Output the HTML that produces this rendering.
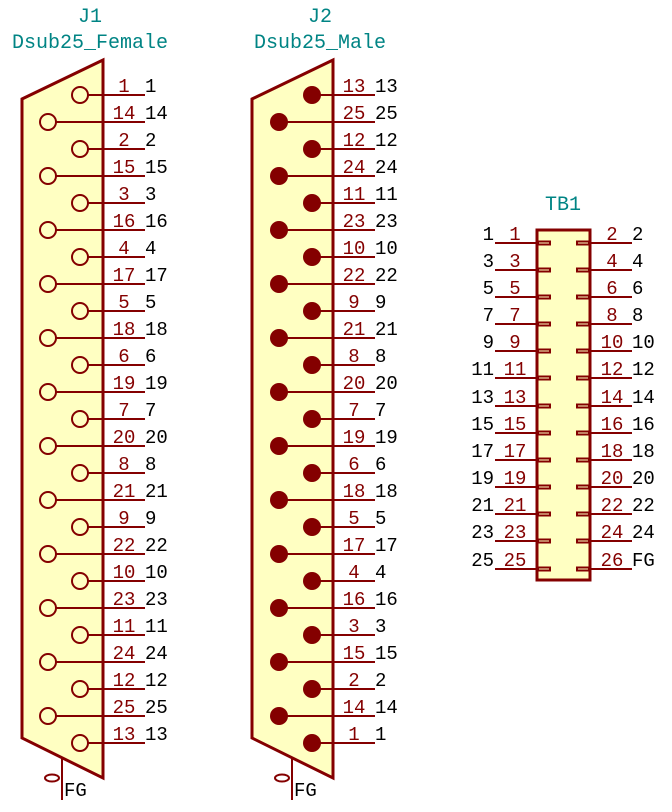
<!DOCTYPE html>
<html><head><meta charset="utf-8"><style>
html,body{margin:0;padding:0;background:#fff;}
svg{display:block;}
text{font-family:"Liberation Mono","DejaVu Sans Mono",monospace;font-size:19px;}
.r{fill:#840000;text-anchor:middle;}
.k{fill:#000;}
.t{fill:#008484;text-anchor:middle;font-size:20px;}
.ln{stroke:#840000;stroke-width:2;fill:none;}
.bd{stroke:#840000;stroke-width:3;fill:#ffffc2;}
</style></head><body>
<svg width="672" height="812" viewBox="0 0 672 812" xmlns="http://www.w3.org/2000/svg">
<!-- J1 -->
<text class="t" x="90" y="22">J1</text>
<text class="t" x="90" y="48">Dsub25_Female</text>
<polygon class="bd" points="103,60 22,99 22,738 103,778"/>
<line class="ln" x1="62" y1="758" x2="62" y2="800"/>
<ellipse cx="52" cy="778" rx="7" ry="3.5" class="ln"/>
<text class="k" x="64" y="796">FG</text>
<g class="ln">
<circle cx="80" cy="95" r="8"/><line x1="88" y1="95" x2="145" y2="95"/>
<circle cx="48" cy="122" r="8"/><line x1="56" y1="122" x2="145" y2="122"/>
<circle cx="80" cy="149" r="8"/><line x1="88" y1="149" x2="145" y2="149"/>
<circle cx="48" cy="176" r="8"/><line x1="56" y1="176" x2="145" y2="176"/>
<circle cx="80" cy="203" r="8"/><line x1="88" y1="203" x2="145" y2="203"/>
<circle cx="48" cy="230" r="8"/><line x1="56" y1="230" x2="145" y2="230"/>
<circle cx="80" cy="257" r="8"/><line x1="88" y1="257" x2="145" y2="257"/>
<circle cx="48" cy="284" r="8"/><line x1="56" y1="284" x2="145" y2="284"/>
<circle cx="80" cy="311" r="8"/><line x1="88" y1="311" x2="145" y2="311"/>
<circle cx="48" cy="338" r="8"/><line x1="56" y1="338" x2="145" y2="338"/>
<circle cx="80" cy="365" r="8"/><line x1="88" y1="365" x2="145" y2="365"/>
<circle cx="48" cy="392" r="8"/><line x1="56" y1="392" x2="145" y2="392"/>
<circle cx="80" cy="419" r="8"/><line x1="88" y1="419" x2="145" y2="419"/>
<circle cx="48" cy="446" r="8"/><line x1="56" y1="446" x2="145" y2="446"/>
<circle cx="80" cy="473" r="8"/><line x1="88" y1="473" x2="145" y2="473"/>
<circle cx="48" cy="500" r="8"/><line x1="56" y1="500" x2="145" y2="500"/>
<circle cx="80" cy="527" r="8"/><line x1="88" y1="527" x2="145" y2="527"/>
<circle cx="48" cy="554" r="8"/><line x1="56" y1="554" x2="145" y2="554"/>
<circle cx="80" cy="581" r="8"/><line x1="88" y1="581" x2="145" y2="581"/>
<circle cx="48" cy="608" r="8"/><line x1="56" y1="608" x2="145" y2="608"/>
<circle cx="80" cy="635" r="8"/><line x1="88" y1="635" x2="145" y2="635"/>
<circle cx="48" cy="662" r="8"/><line x1="56" y1="662" x2="145" y2="662"/>
<circle cx="80" cy="689" r="8"/><line x1="88" y1="689" x2="145" y2="689"/>
<circle cx="48" cy="716" r="8"/><line x1="56" y1="716" x2="145" y2="716"/>
<circle cx="80" cy="743" r="8"/><line x1="88" y1="743" x2="145" y2="743"/>
</g>
<g class="r">
<text x="124" y="92">1</text><text x="124" y="119">14</text><text x="124" y="146">2</text><text x="124" y="173">15</text><text x="124" y="200">3</text><text x="124" y="227">16</text><text x="124" y="254">4</text><text x="124" y="281">17</text><text x="124" y="308">5</text><text x="124" y="335">18</text><text x="124" y="362">6</text><text x="124" y="389">19</text><text x="124" y="416">7</text><text x="124" y="443">20</text><text x="124" y="470">8</text><text x="124" y="497">21</text><text x="124" y="524">9</text><text x="124" y="551">22</text><text x="124" y="578">10</text><text x="124" y="605">23</text><text x="124" y="632">11</text><text x="124" y="659">24</text><text x="124" y="686">12</text><text x="124" y="713">25</text><text x="124" y="740">13</text>
</g>
<g class="k">
<text x="145" y="92">1</text><text x="145" y="119">14</text><text x="145" y="146">2</text><text x="145" y="173">15</text><text x="145" y="200">3</text><text x="145" y="227">16</text><text x="145" y="254">4</text><text x="145" y="281">17</text><text x="145" y="308">5</text><text x="145" y="335">18</text><text x="145" y="362">6</text><text x="145" y="389">19</text><text x="145" y="416">7</text><text x="145" y="443">20</text><text x="145" y="470">8</text><text x="145" y="497">21</text><text x="145" y="524">9</text><text x="145" y="551">22</text><text x="145" y="578">10</text><text x="145" y="605">23</text><text x="145" y="632">11</text><text x="145" y="659">24</text><text x="145" y="686">12</text><text x="145" y="713">25</text><text x="145" y="740">13</text>
</g>

<!-- J2 -->
<text class="t" x="320" y="22">J2</text>
<text class="t" x="320" y="48">Dsub25_Male</text>
<polygon class="bd" points="333,60 252,99 252,738 333,778"/>
<line class="ln" x1="292" y1="758" x2="292" y2="800"/>
<ellipse cx="282" cy="778" rx="7" ry="3.5" class="ln"/>
<text class="k" x="294" y="796">FG</text>
<g class="ln">
<line x1="312" y1="95" x2="375" y2="95"/><line x1="279" y1="122" x2="375" y2="122"/><line x1="312" y1="149" x2="375" y2="149"/><line x1="279" y1="176" x2="375" y2="176"/><line x1="312" y1="203" x2="375" y2="203"/><line x1="279" y1="230" x2="375" y2="230"/><line x1="312" y1="257" x2="375" y2="257"/><line x1="279" y1="284" x2="375" y2="284"/><line x1="312" y1="311" x2="375" y2="311"/><line x1="279" y1="338" x2="375" y2="338"/><line x1="312" y1="365" x2="375" y2="365"/><line x1="279" y1="392" x2="375" y2="392"/><line x1="312" y1="419" x2="375" y2="419"/><line x1="279" y1="446" x2="375" y2="446"/><line x1="312" y1="473" x2="375" y2="473"/><line x1="279" y1="500" x2="375" y2="500"/><line x1="312" y1="527" x2="375" y2="527"/><line x1="279" y1="554" x2="375" y2="554"/><line x1="312" y1="581" x2="375" y2="581"/><line x1="279" y1="608" x2="375" y2="608"/><line x1="312" y1="635" x2="375" y2="635"/><line x1="279" y1="662" x2="375" y2="662"/><line x1="312" y1="689" x2="375" y2="689"/><line x1="279" y1="716" x2="375" y2="716"/><line x1="312" y1="743" x2="375" y2="743"/>
</g>
<g fill="#840000">
<circle cx="312" cy="95" r="9"/><circle cx="279" cy="122" r="9"/><circle cx="312" cy="149" r="9"/><circle cx="279" cy="176" r="9"/><circle cx="312" cy="203" r="9"/><circle cx="279" cy="230" r="9"/><circle cx="312" cy="257" r="9"/><circle cx="279" cy="284" r="9"/><circle cx="312" cy="311" r="9"/><circle cx="279" cy="338" r="9"/><circle cx="312" cy="365" r="9"/><circle cx="279" cy="392" r="9"/><circle cx="312" cy="419" r="9"/><circle cx="279" cy="446" r="9"/><circle cx="312" cy="473" r="9"/><circle cx="279" cy="500" r="9"/><circle cx="312" cy="527" r="9"/><circle cx="279" cy="554" r="9"/><circle cx="312" cy="581" r="9"/><circle cx="279" cy="608" r="9"/><circle cx="312" cy="635" r="9"/><circle cx="279" cy="662" r="9"/><circle cx="312" cy="689" r="9"/><circle cx="279" cy="716" r="9"/><circle cx="312" cy="743" r="9"/>
</g>
<g class="r">
<text x="354" y="92">13</text><text x="354" y="119">25</text><text x="354" y="146">12</text><text x="354" y="173">24</text><text x="354" y="200">11</text><text x="354" y="227">23</text><text x="354" y="254">10</text><text x="354" y="281">22</text><text x="354" y="308">9</text><text x="354" y="335">21</text><text x="354" y="362">8</text><text x="354" y="389">20</text><text x="354" y="416">7</text><text x="354" y="443">19</text><text x="354" y="470">6</text><text x="354" y="497">18</text><text x="354" y="524">5</text><text x="354" y="551">17</text><text x="354" y="578">4</text><text x="354" y="605">16</text><text x="354" y="632">3</text><text x="354" y="659">15</text><text x="354" y="686">2</text><text x="354" y="713">14</text><text x="354" y="740">1</text>
</g>
<g class="k">
<text x="375" y="92">13</text><text x="375" y="119">25</text><text x="375" y="146">12</text><text x="375" y="173">24</text><text x="375" y="200">11</text><text x="375" y="227">23</text><text x="375" y="254">10</text><text x="375" y="281">22</text><text x="375" y="308">9</text><text x="375" y="335">21</text><text x="375" y="362">8</text><text x="375" y="389">20</text><text x="375" y="416">7</text><text x="375" y="443">19</text><text x="375" y="470">6</text><text x="375" y="497">18</text><text x="375" y="524">5</text><text x="375" y="551">17</text><text x="375" y="578">4</text><text x="375" y="605">16</text><text x="375" y="632">3</text><text x="375" y="659">15</text><text x="375" y="686">2</text><text x="375" y="713">14</text><text x="375" y="740">1</text>
</g>

<!-- TB1 -->
<text class="t" x="563" y="210">TB1</text>
<rect class="bd" x="537" y="230" width="53" height="350"/>
<g class="ln">
<line x1="495" y1="243" x2="537" y2="243"/><line x1="590" y1="243" x2="632" y2="243"/>
<line x1="495" y1="270" x2="537" y2="270"/><line x1="590" y1="270" x2="632" y2="270"/>
<line x1="495" y1="297" x2="537" y2="297"/><line x1="590" y1="297" x2="632" y2="297"/>
<line x1="495" y1="324" x2="537" y2="324"/><line x1="590" y1="324" x2="632" y2="324"/>
<line x1="495" y1="351" x2="537" y2="351"/><line x1="590" y1="351" x2="632" y2="351"/>
<line x1="495" y1="378" x2="537" y2="378"/><line x1="590" y1="378" x2="632" y2="378"/>
<line x1="495" y1="406" x2="537" y2="406"/><line x1="590" y1="406" x2="632" y2="406"/>
<line x1="495" y1="433" x2="537" y2="433"/><line x1="590" y1="433" x2="632" y2="433"/>
<line x1="495" y1="460" x2="537" y2="460"/><line x1="590" y1="460" x2="632" y2="460"/>
<line x1="495" y1="487" x2="537" y2="487"/><line x1="590" y1="487" x2="632" y2="487"/>
<line x1="495" y1="514" x2="537" y2="514"/><line x1="590" y1="514" x2="632" y2="514"/>
<line x1="495" y1="541" x2="537" y2="541"/><line x1="590" y1="541" x2="632" y2="541"/>
<line x1="495" y1="569" x2="537" y2="569"/><line x1="590" y1="569" x2="632" y2="569"/>
</g>
<g class="ln" stroke-width="1.5">
<rect x="538" y="241.5" width="12" height="3"/><rect x="577" y="241.5" width="12" height="3"/>
<rect x="538" y="268.5" width="12" height="3"/><rect x="577" y="268.5" width="12" height="3"/>
<rect x="538" y="295.5" width="12" height="3"/><rect x="577" y="295.5" width="12" height="3"/>
<rect x="538" y="322.5" width="12" height="3"/><rect x="577" y="322.5" width="12" height="3"/>
<rect x="538" y="349.5" width="12" height="3"/><rect x="577" y="349.5" width="12" height="3"/>
<rect x="538" y="376.5" width="12" height="3"/><rect x="577" y="376.5" width="12" height="3"/>
<rect x="538" y="404.5" width="12" height="3"/><rect x="577" y="404.5" width="12" height="3"/>
<rect x="538" y="431.5" width="12" height="3"/><rect x="577" y="431.5" width="12" height="3"/>
<rect x="538" y="458.5" width="12" height="3"/><rect x="577" y="458.5" width="12" height="3"/>
<rect x="538" y="485.5" width="12" height="3"/><rect x="577" y="485.5" width="12" height="3"/>
<rect x="538" y="512.5" width="12" height="3"/><rect x="577" y="512.5" width="12" height="3"/>
<rect x="538" y="539.5" width="12" height="3"/><rect x="577" y="539.5" width="12" height="3"/>
<rect x="538" y="567.5" width="12" height="3"/><rect x="577" y="567.5" width="12" height="3"/>
</g>
<g class="r">
<text x="515" y="240">1</text><text x="612" y="240">2</text>
<text x="515" y="267">3</text><text x="612" y="267">4</text>
<text x="515" y="294">5</text><text x="612" y="294">6</text>
<text x="515" y="321">7</text><text x="612" y="321">8</text>
<text x="515" y="348">9</text><text x="612" y="348">10</text>
<text x="515" y="375">11</text><text x="612" y="375">12</text>
<text x="515" y="403">13</text><text x="612" y="403">14</text>
<text x="515" y="430">15</text><text x="612" y="430">16</text>
<text x="515" y="457">17</text><text x="612" y="457">18</text>
<text x="515" y="484">19</text><text x="612" y="484">20</text>
<text x="515" y="511">21</text><text x="612" y="511">22</text>
<text x="515" y="538">23</text><text x="612" y="538">24</text>
<text x="515" y="566">25</text><text x="612" y="566">26</text>
</g>
<g class="k" text-anchor="end">
<text x="494" y="240">1</text><text x="494" y="267">3</text><text x="494" y="294">5</text><text x="494" y="321">7</text><text x="494" y="348">9</text><text x="494" y="375">11</text><text x="494" y="403">13</text><text x="494" y="430">15</text><text x="494" y="457">17</text><text x="494" y="484">19</text><text x="494" y="511">21</text><text x="494" y="538">23</text><text x="494" y="566">25</text>
</g>
<g class="k">
<text x="632" y="240">2</text><text x="632" y="267">4</text><text x="632" y="294">6</text><text x="632" y="321">8</text><text x="632" y="348">10</text><text x="632" y="375">12</text><text x="632" y="403">14</text><text x="632" y="430">16</text><text x="632" y="457">18</text><text x="632" y="484">20</text><text x="632" y="511">22</text><text x="632" y="538">24</text><text x="632" y="566">FG</text>
</g>
</svg>
</body></html>
